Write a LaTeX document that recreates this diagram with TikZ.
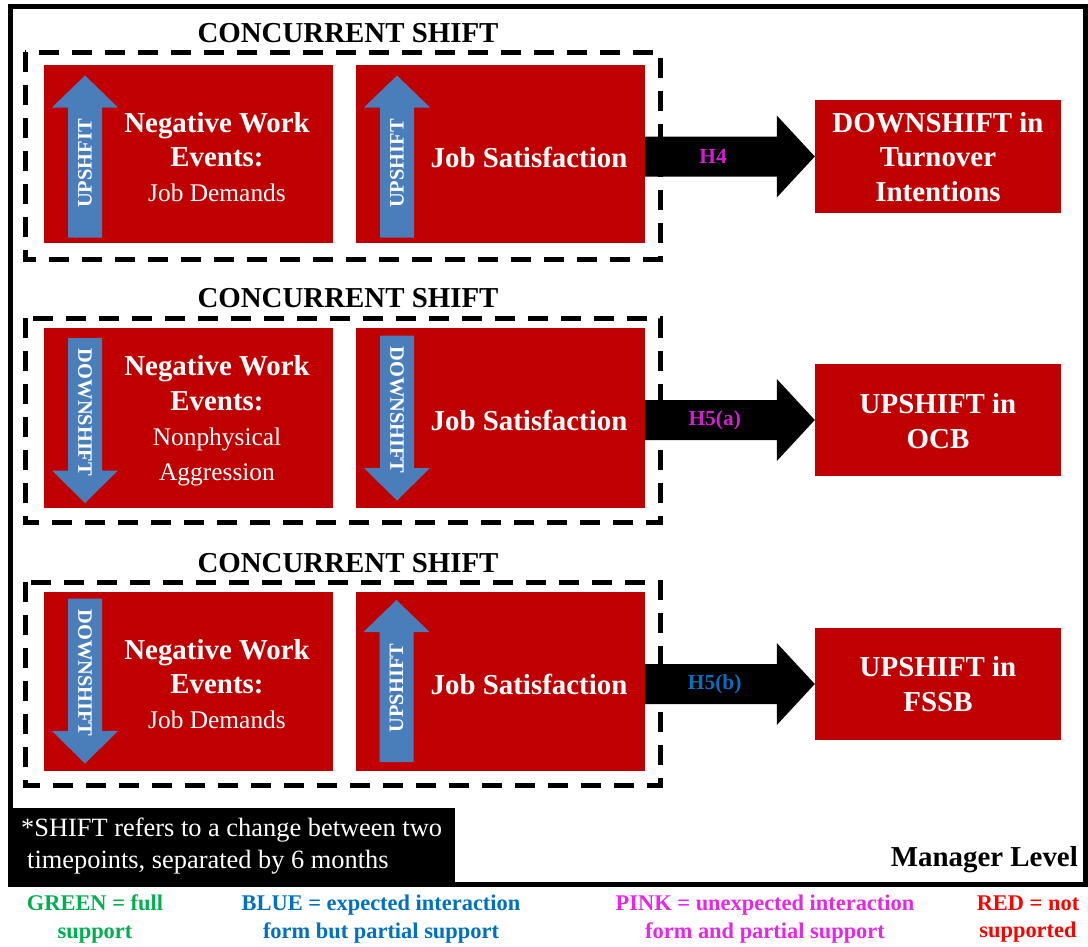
\documentclass[tikz,border=0pt]{standalone}
\usepackage{fontspec}
\setmainfont{Liberation Serif}
\usetikzlibrary{calc}
\definecolor{boxred}{RGB}{192,0,0}
\definecolor{arrblue}{RGB}{74,126,187}
\definecolor{lgreen}{RGB}{0,176,80}
\definecolor{lblue}{RGB}{0,112,192}
\definecolor{lpink}{RGB}{230,40,230}
\definecolor{lred}{RGB}{255,0,0}
\definecolor{hpink}{RGB}{210,30,210}
\tikzset{
 redbox/.style 2 args={rectangle, fill=boxred, inner sep=0pt, minimum width=#1bp, minimum height=#2bp},
 big/.style={font=\fontsize{29}{35}\selectfont\bfseries, text=white, align=center, inner sep=0pt},
 title/.style={font=\fontsize{29}{35}\selectfont\bfseries, inner sep=0pt},
 dashbox/.style={draw=black, line width=5bp, dash pattern=on 20bp off 13bp},
 hlab/.style={font=\fontsize{21.5}{24}\selectfont\bfseries, inner sep=0pt},
 legend/.style={font=\fontsize{22.5}{28}\selectfont\bfseries, align=center, inner sep=0pt},
 vtext/.style={font=\fontsize{20.5}{24}\selectfont\bfseries, text=white, inner sep=0pt},
 pics/uparr/.style={code={
   \fill[arrblue] (-17,81) -- (-17,-49) -- (-33,-49) -- (0,-81) -- (33,-49) -- (17,-49) -- (17,81) -- cycle;
   \node[vtext, rotate=90] at (0,7) {#1};
 }},
 pics/downarr/.style={code={
   \fill[arrblue] (-17,-82.5) -- (17,-82.5) -- (17,50) -- (33,50) -- (0,82.5) -- (-33,50) -- (-17,50) -- cycle;
   \node[vtext, rotate=-90] at (0,-8) {#1};
 }},
}
\newcommand{\smalltext}[1]{{\normalfont\fontsize{25.5}{32}\selectfont #1}}
\begin{document}
\begin{tikzpicture}[x=1bp,y=-1bp]
\useasboundingbox (0,0) rectangle (1088,947);
\fill[white] (0,0) rectangle (1088,947);
% outer frame
\draw[line width=5bp] (10,6) rectangle (1085,884);
% footnote box
\fill[black] (8,808) rectangle (455,884);
\node[anchor=west, align=left, text=white, font=\fontsize{26.5}{32}\selectfont, inner sep=0pt] (foot) at (21,846)
 {*SHIFT refers to a change between two\\\hspace{6bp}timepoints, separated by 6 months};
\node[anchor=east, font=\fontsize{29}{35}\selectfont\bfseries, inner sep=0pt] (mgr) at (1078,860) {Manager Level};

% ---------- Panel 1 ----------
\node[title] (t1) at (348,33) {CONCURRENT SHIFT};
\draw[dashbox] (25,52) rectangle (660,259);
\node[redbox={289}{178}] (nwe1) at (188.5,154) {};
\node[redbox={289}{178}] (js1) at (500.5,154) {};
\node[redbox={246}{113}] (out1) at (938,156.5) {};
\pic at (85,156.5) {uparr={UPSHFIT}};
\pic at (397,156.5) {uparr={UPSHIFT}};
\node[big] (nwe1t) at (217,157) {Negative Work\\Events:\\\smalltext{Job Demands}};
\node[big] (js1t) at (529,157) {Job Satisfaction};
\node[big] (out1t) at (938,157) {DOWNSHIFT in\\Turnover\\Intentions};
\fill[black] ($(js1.east |- out1.west)+(0,-20)$) -- ($(out1.west)+(-38,-20)$) -- ($(out1.west)+(-38,-41)$) -- (out1.west)
  -- ($(out1.west)+(-38,41)$) -- ($(out1.west)+(-38,20)$) -- ($(js1.east |- out1.west)+(0,20)$) -- cycle;
\node[hlab, text=hpink] (h4) at ($(js1.east |- out1.west)!0.4!(out1.west)$) {H4};

% ---------- Panel 2 ----------
\node[title] (t2) at (348,298) {CONCURRENT SHIFT};
\draw[dashbox] (25,318) rectangle (660,522);
\node[redbox={289}{180}] (nwe2) at (188.5,418) {};
\node[redbox={289}{180}] (js2) at (500.5,418) {};
\node[redbox={246}{112}] (out2) at (938,420) {};
\pic at (85,420.5) {downarr={DOWNSHIFT}};
\pic at (397,418) {downarr={DOWNSHIFT}};
\node[big] (nwe2t) at (217,421) {Negative Work\\Events:\\\smalltext{Nonphysical}\\\smalltext{Aggression}};
\node[big] (js2t) at (529,420) {Job Satisfaction};
\node[big] (out2t) at (938,421) {UPSHIFT in\\OCB};
\fill[black] ($(js2.east |- out2.west)+(0,-20)$) -- ($(out2.west)+(-38,-20)$) -- ($(out2.west)+(-38,-41)$) -- (out2.west)
  -- ($(out2.west)+(-38,41)$) -- ($(out2.west)+(-38,20)$) -- ($(js2.east |- out2.west)+(0,20)$) -- cycle;
\node[hlab, text=hpink] (h5a) at ($(js2.east |- out2.west)!0.41!(out2.west)$) {H5(a)};

% ---------- Panel 3 ----------
\node[title] (t3) at (348,563) {CONCURRENT SHIFT};
\draw[dashbox] (25,582) rectangle (660,785);
\node[redbox={289}{179}] (nwe3) at (188.5,681.5) {};
\node[redbox={289}{179}] (js3) at (500.5,681.5) {};
\node[redbox={246}{112}] (out3) at (938,684) {};
\pic at (85,681) {downarr={DOWNSHIFT}};
\pic at (396.5,681) {uparr={UPSHIFT}};
\node[big] (nwe3t) at (217,684) {Negative Work\\Events:\\\smalltext{Job Demands}};
\node[big] (js3t) at (529,684) {Job Satisfaction};
\node[big] (out3t) at (938,684) {UPSHIFT in\\FSSB};
\fill[black] ($(js3.east |- out3.west)+(0,-20)$) -- ($(out3.west)+(-38,-20)$) -- ($(out3.west)+(-38,-41)$) -- (out3.west)
  -- ($(out3.west)+(-38,41)$) -- ($(out3.west)+(-38,20)$) -- ($(js3.east |- out3.west)+(0,20)$) -- cycle;
\node[hlab, text=lblue] (h5b) at ($(js3.east |- out3.west)!0.41!(out3.west)$) {H5(b)};

% ---------- Legend ----------
\node[legend, text=lgreen] (lg) at (95,919) {GREEN = full\\support};
\node[legend, text=lblue] (lb) at (381,919) {BLUE = expected interaction\\form but partial support};
\node[legend, text=lpink] (lp) at (765,919) {PINK = unexpected interaction\\form and partial support};
\node[legend, text=lred] (lr) at (1028,919) {RED = not\\supported};
\end{tikzpicture}
\end{document}
